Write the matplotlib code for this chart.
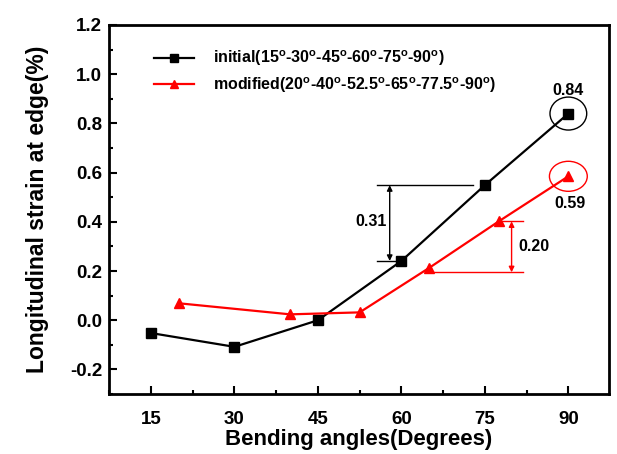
import matplotlib
matplotlib.use("Agg")
import matplotlib.pyplot as plt
from matplotlib.patches import Ellipse
from matplotlib.ticker import MultipleLocator, FormatStrFormatter

plt.rcParams['font.family'] = ['Liberation Sans', 'DejaVu Sans']
plt.rcParams['font.weight'] = 'bold'
plt.rcParams['mathtext.fontset'] = 'custom'
plt.rcParams['mathtext.bf'] = 'Liberation Sans:bold'
plt.rcParams['mathtext.rm'] = 'Liberation Sans:bold'
plt.rcParams['mathtext.default'] = 'bf'

# data
initial_angles = [15, 30, 45, 60, 75, 90]
initial_strain = [-0.052, -0.108, 0.0, 0.241, 0.549, 0.84]
modified_angles = [20, 40, 52.5, 65, 77.5, 90]
modified_strain = [0.069, 0.024, 0.032, 0.213, 0.402, 0.585]
x_ticks = [15, 30, 45, 60, 75, 90]
y_ticks = [-0.2, 0.0, 0.2, 0.4, 0.6, 0.8, 1.0, 1.2]
initial_names = ["15", "30", "45", "60", "75", "90"]
modified_names = ["20", "40", "52.5", "65", "77.5", "90"]

deg = r"$^{o}$"
label_init = "initial(" + "-".join(f"{a}{deg}" for a in initial_names) + ")"
label_mod = "modified(" + "-".join(f"{a}{deg}" for a in modified_names) + ")"

fig = plt.figure(figsize=(6.17, 4.54), dpi=100)
ax = fig.add_axes([0.177, 0.132, 0.81, 0.813])

ax.plot(initial_angles, initial_strain, color='black', marker='s', markersize=6.5, lw=1.6,
        label=label_init)
ax.plot(modified_angles, modified_strain, color='red', marker='^', markersize=7.5, lw=1.6,
        label=label_mod)

ax.set_xlim(7.5, 97.3)
ax.set_ylim(-0.3, 1.2)
ax.set_xticks(x_ticks)
ax.set_yticks(y_ticks)
ax.xaxis.set_minor_locator(MultipleLocator(7.5))
ax.yaxis.set_minor_locator(MultipleLocator(0.1))
ax.tick_params(which='both', direction='in', top=False, right=False, width=1.5)
ax.tick_params(which='major', length=6, labelsize=13.5)
ax.tick_params(which='minor', length=3)
ax.tick_params(axis='x', pad=12)
ax.tick_params(axis='y', pad=5)
ax.yaxis.set_major_formatter(FormatStrFormatter('%.1f'))
for s in ax.spines.values():
    s.set_linewidth(2)

ax.set_xlabel("Bending angles(Degrees)", fontsize=16, fontweight='bold', labelpad=1)
ax.set_ylabel("Longitudinal strain at edge(%)", fontsize=16.5, fontweight='bold', labelpad=15)

ax.legend(loc='upper left', bbox_to_anchor=(0.06, 0.975), frameon=False, fontsize=11.5,
          handlelength=2.5, handletextpad=1.2, labelspacing=0.45, markerscale=0.8)

# end circles and value labels
ax.add_patch(Ellipse((90, 0.84), 6.6, 0.134, fill=False, ec='black', lw=1))
ax.add_patch(Ellipse((90, 0.585), 6.8, 0.122, fill=False, ec='red', lw=1))
ax.text(90, 0.905, "0.84", ha='center', va='bottom', fontsize=11.5, fontweight='bold')
ax.text(90.3, 0.505, "0.59", ha='center', va='top', fontsize=11.5, fontweight='bold')

# 0.31 difference annotation
ax.plot([55.7, 72.8], [0.549, 0.549], color='black', lw=1)
ax.plot([55.7, 59.5], [0.241, 0.241], color='black', lw=1)
ax.annotate("", xy=(57.9, 0.241), xytext=(57.9, 0.549),
            arrowprops=dict(arrowstyle='<|-|>', color='black', lw=1, mutation_scale=8,
                            shrinkA=0, shrinkB=0))
ax.text(57.3, 0.40, "0.31", ha='right', va='center', fontsize=11.5, fontweight='bold')

# 0.20 difference annotation
ax.plot([77.5, 81.8], [0.402, 0.402], color='red', lw=1)
ax.plot([65.0, 81.8], [0.195, 0.195], color='red', lw=1)
ax.annotate("", xy=(79.8, 0.195), xytext=(79.8, 0.402),
            arrowprops=dict(arrowstyle='<|-|>', color='red', lw=1, mutation_scale=8,
                            shrinkA=0, shrinkB=0))
ax.text(81.1, 0.30, "0.20", ha='left', va='center', fontsize=11.5, fontweight='bold')

fig.savefig("out.png", dpi=100)
